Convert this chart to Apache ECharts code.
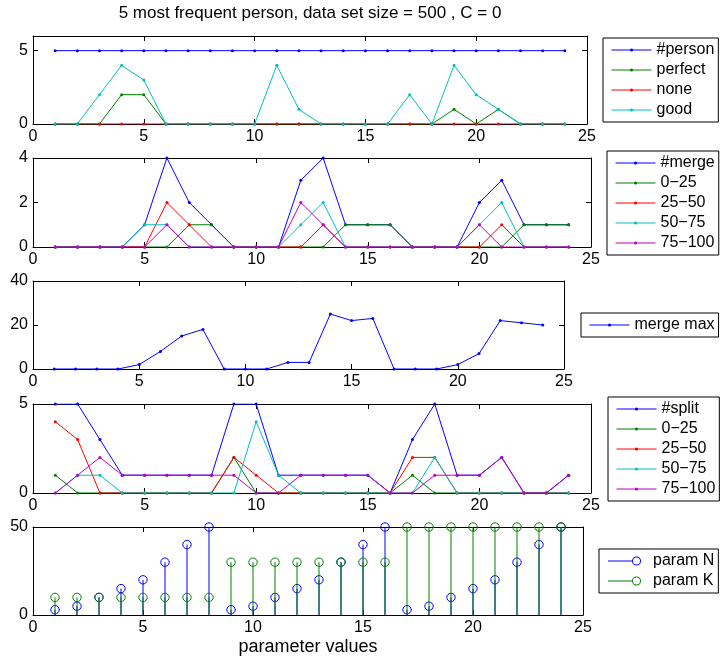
<!DOCTYPE html>
<html>
<head>
<meta charset="utf-8">
<script src="https://cdn.jsdelivr.net/npm/echarts@6/dist/echarts.min.js"></script>
<style>html,body{margin:0;padding:0;background:#fff}#c{width:720px;height:661px}</style>
</head>
<body>
<div id="c"></div>
<script>
// ---------- data ----------
const titleText = '5 most frequent person, data set size = 500 , C = 0';
const xLabelText = 'parameter values';
const xValues = [1,2,3,4,5,6,7,8,9,10,11,12,13,14,15,16,17,18,19,20,21,22,23,24];

// panel 1
const personCount = [5,5,5,5,5,5,5,5,5,5,5,5,5,5,5,5,5,5,5,5,5,5,5,5];
const perfect     = [0,0,0,2,2,0,0,0,0,0,0,0,0,0,0,0,0,0,1,0,1,0,0,0];
const none        = [0,0,0,0,0,0,0,0,0,0,0,0,0,0,0,0,0,0,0,0,0,0,0,0];
const good        = [0,0,2,4,3,0,0,0,0,0,4,1,0,0,0,0,2,0,4,2,1,0,0,0];

// panel 2
const mergeCount  = [0,0,0,0,1,4,2,1,0,0,0,3,4,1,1,1,0,0,0,2,3,1,1,1];
const merge0_25   = [0,0,0,0,0,0,1,1,0,0,0,0,0,1,1,1,0,0,0,0,0,1,1,1];
const merge25_50  = [0,0,0,0,0,2,1,0,0,0,0,0,1,0,0,0,0,0,0,0,1,0,0,0];
const merge50_75  = [0,0,0,0,1,1,0,0,0,0,0,1,2,0,0,0,0,0,0,1,2,0,0,0];
const merge75_100 = [0,0,0,0,0,1,0,0,0,0,0,2,1,0,0,0,0,0,0,1,0,0,0,0];

// panel 3
const mergeMax    = [0,0,0,0,2,8,15,18,0,0,0,3,3,25,22,23,0,0,0,2,7,22,21,20];

// panel 4
const splitCount  = [5,5,3,1,1,1,1,1,5,5,1,1,1,1,1,0,3,5,1,1,2,0,0,1];
const split0_25   = [1,0,0,0,0,0,0,0,2,0,0,0,0,0,0,0,1,0,0,0,0,0,0,0];
const split25_50  = [4,3,0,0,0,0,0,0,2,1,0,0,0,0,0,0,2,2,0,0,0,0,0,0];
const split50_75  = [0,1,1,0,0,0,0,0,0,4,1,0,0,0,0,0,0,2,0,0,0,0,0,0];
const split75_100 = [0,1,2,1,1,1,1,1,1,0,0,1,1,1,1,0,0,1,1,1,2,0,0,1];

// panel 5
const paramN      = [3,5,10,15,20,30,40,50,3,5,10,15,20,30,40,50,3,5,10,15,20,30,40,50];
const paramK      = [10,10,10,10,10,10,10,10,30,30,30,30,30,30,30,30,50,50,50,50,50,50,50,50];

// axis ranges
const xMin = 0, xMax = 25, xInterval = 5;
const yMaxes     = [6, 4, 40, 5, 50];
const yIntervals = [5, 2, 20, 5, 50];

// ---------- styling ----------
const FONT = '"Liberation Sans", Arial, Helvetica, sans-serif';
const BLUE = '#0000ff', GREEN = '#008000', RED = '#ff0000', CYAN = '#00bfbf', MAGENTA = '#bf00bf';

const grids = [
  {left:33, top:36,  width:554, height:88},
  {left:33, top:158, width:558, height:89},
  {left:33, top:281, width:531, height:88},
  {left:33, top:404, width:558, height:89},
  {left:33, top:527, width:550, height:88}
];

const xAxes = [], yAxes = [];
grids.forEach((g, i) => {
  const common = {
    type: 'value',
    gridIndex: i,
    axisLine: {show: true, onZero: false, lineStyle: {color: '#000', width: 1}},
    axisTick: {show: true, inside: true, length: 5, lineStyle: {color: '#000', width: 1}},
    splitLine: {show: false},
    silent: true
  };
  const xBase = Object.assign({}, common, {min: xMin, max: xMax, interval: xInterval});
  xAxes.push(Object.assign({}, xBase, {
    position: 'bottom',
    axisLabel: {color: '#000', fontSize: 16, fontFamily: FONT, margin: 5},
    name: i === 4 ? xLabelText : '',
    nameLocation: 'middle',
    nameGap: 23,
    nameTextStyle: {color: '#000', fontSize: 18, fontFamily: FONT}
  }));
  xAxes.push(Object.assign({}, xBase, {position: 'top', axisLabel: {show: false}}));
  const yBase = Object.assign({}, common, {min: 0, max: yMaxes[i], interval: yIntervals[i]});
  yAxes.push(Object.assign({}, yBase, {
    position: 'left',
    axisLabel: {color: '#000', fontSize: 16, fontFamily: FONT, margin: 5,
      formatter: v => (v % yIntervals[i] === 0 ? String(v) : '')}
  }));
  yAxes.push(Object.assign({}, yBase, {position: 'right', axisLabel: {show: false}}));
});

function pairs(vals) { return xValues.map((x, k) => [x, vals[k]]); }

function lineSeries(name, vals, color, panel) {
  return {
    type: 'line', name: name, data: pairs(vals),
    xAxisIndex: panel * 2, yAxisIndex: panel * 2,
    symbol: 'circle', symbolSize: 3, showSymbol: true,
    lineStyle: {color: color, width: 1},
    itemStyle: {color: color},
    emphasis: {disabled: true},
    animation: false, silent: true
  };
}

function stemSeries(name, vals, color) {
  return {
    type: 'custom', name: name, data: pairs(vals),
    xAxisIndex: 8, yAxisIndex: 8,
    encode: {x: 0, y: 1},
    itemStyle: {color: color},
    animation: false, silent: true,
    renderItem: function (params, api) {
      const x = api.value(0), y = api.value(1);
      const p0 = api.coord([x, 0]);
      const p1 = api.coord([x, y]);
      const c = api.visual('color');
      return {
        type: 'group',
        children: [
          {type: 'line', shape: {x1: p0[0], y1: p0[1], x2: p1[0], y2: p1[1]},
           style: {stroke: c, lineWidth: 1}},
          {type: 'circle', shape: {cx: p1[0], cy: p1[1], r: 4.2},
           style: {fill: 'none', stroke: c, lineWidth: 1}}
        ]
      };
    }
  };
}

const series = [
  lineSeries('#person', personCount, BLUE, 0),
  lineSeries('perfect', perfect, GREEN, 0),
  lineSeries('none', none, RED, 0),
  lineSeries('good', good, CYAN, 0),

  lineSeries('#merge', mergeCount, BLUE, 1),
  lineSeries('0\u221225', merge0_25, GREEN, 1),
  lineSeries('25\u221250', merge25_50, RED, 1),
  lineSeries('50\u221275', merge50_75, CYAN, 1),
  lineSeries('75\u2212100', merge75_100, MAGENTA, 1),

  lineSeries('merge max', mergeMax, BLUE, 2),

  lineSeries('#split', splitCount, BLUE, 3),
  lineSeries('0\u221225', split0_25, GREEN, 3),
  lineSeries('25\u221250', split25_50, RED, 3),
  lineSeries('50\u221275', split50_75, CYAN, 3),
  lineSeries('75\u2212100', split75_100, MAGENTA, 3),

  stemSeries('param N', paramN, BLUE),
  stemSeries('param K', paramK, GREEN)
];

function legendBox(names, left, top, extra) {
  return Object.assign({
    show: true, orient: 'vertical', left: left, top: top,
    data: names,
    itemWidth: 40, itemHeight: 4, itemGap: 0,
    padding: [2, 4, 2, 8],
    backgroundColor: '#fff', borderColor: '#000', borderWidth: 1, borderRadius: 0,
    selectedMode: false,
    lineStyle: {width: 1},
    textStyle: {color: '#000', fontSize: 16, fontFamily: FONT, lineHeight: 20}
  }, extra || {});
}

const STEM_ICON = 'path://M0,4 L24,4 L24,5 L0,5 Z M24,4.5 A4.5,4.5 0 1,0 33,4.5 A4.5,4.5 0 1,0 24,4.5 Z M25,4.5 A3.5,3.5 0 1,1 32,4.5 A3.5,3.5 0 1,1 25,4.5 Z';

const legends = [
  legendBox(['#person', 'perfect', 'none', 'good'], 603, 38),
  legendBox(['#merge', '0\u221225', '25\u221250', '50\u221275', '75\u2212100'], 607, 151),
  legendBox(['merge max'], 581, 313),
  legendBox(['#split', '0\u221225', '25\u221250', '50\u221275', '75\u2212100'], 608, 397),
  legendBox([{name: 'param N', icon: STEM_ICON}, {name: 'param K', icon: STEM_ICON}], 599, 549, {
    itemWidth: 33, itemHeight: 9, padding: [2, 4, 2, 9],
    itemStyle: {borderWidth: 0},
    textStyle: {color: '#000', fontSize: 16, fontFamily: FONT, lineHeight: 20, padding: [0, 0, 0, 7]}
  })
];

const chart = echarts.init(document.getElementById('c'), null, {renderer: 'canvas'});
chart.setOption({
  animation: false,
  backgroundColor: '#fff',
  grid: grids.map(g => Object.assign({outerBoundsMode: 'none', containLabel: false}, g)),
  xAxis: xAxes,
  yAxis: yAxes,
  legend: legends,
  series: series,
  graphic: [{
    type: 'text', x: 310, y: 13.5, silent: true,
    style: {text: titleText, fill: '#000', fontSize: 17, fontFamily: FONT, align: 'center', verticalAlign: 'middle'}
  }]
});
</script>
</body>
</html>
